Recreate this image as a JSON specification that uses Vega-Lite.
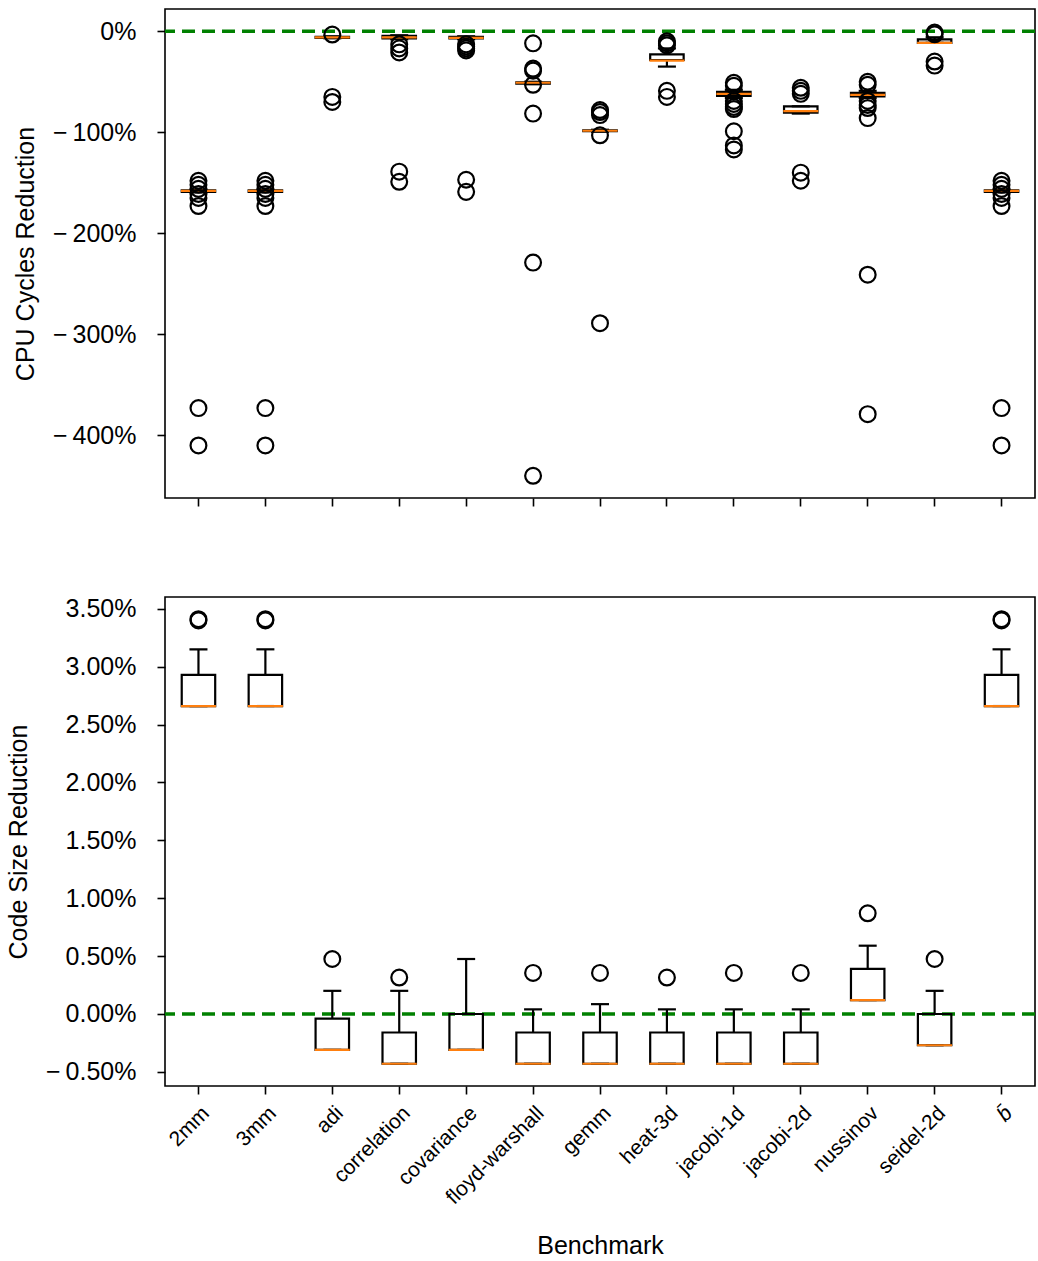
{
  "$schema": "https://vega.github.io/schema/vega-lite/v6.json",
  "background": "white",
  "padding": {"left": 5, "top": 8, "right": 3, "bottom": 0},
  "spacing": 88,
  "config": {
    "font": "Liberation Sans",
    "view": {"stroke": "black", "strokeWidth": 1.6},
    "axis": {
      "domain": false, "grid": false,
      "tickColor": "black", "tickWidth": 1.6, "tickSize": 8,
      "labelColor": "black", "titleColor": "black",
      "labelFont": "Liberation Sans", "titleFont": "Liberation Sans",
      "labelFontSize": 25, "titleFontSize": 25, "titleFontWeight": "normal",
      "labelPadding": 21, "titlePadding": 14
    }
  },
  "datasets": {
    "cpuBox": [
      {"b": "2mm", "lo": -159.5, "q1": -159, "med": -158, "q3": -157.5, "hi": -157},
      {"b": "3mm", "lo": -159.5, "q1": -159, "med": -158, "q3": -157.5, "hi": -157},
      {"b": "adi", "lo": -7, "q1": -6.5, "med": -6, "q3": -5.5, "hi": -5},
      {"b": "correlation", "lo": -8, "q1": -7, "med": -6, "q3": -4.5, "hi": -4},
      {"b": "covariance", "lo": -8, "q1": -7, "med": -6.5, "q3": -5.5, "hi": -5},
      {"b": "floyd-warshall", "lo": -52.5, "q1": -52, "med": -51, "q3": -50.5, "hi": -50},
      {"b": "gemm", "lo": -99.5, "q1": -99, "med": -98.5, "q3": -98, "hi": -97.5},
      {"b": "heat-3d", "lo": -35, "q1": -28.5, "med": -29, "q3": -23, "hi": -17},
      {"b": "jacobi-1d", "lo": -66, "q1": -64, "med": -62, "q3": -60, "hi": -58},
      {"b": "jacobi-2d", "lo": -81.5, "q1": -80.5, "med": -79, "q3": -74.3, "hi": -74.3},
      {"b": "nussinov", "lo": -66, "q1": -64.5, "med": -63, "q3": -61, "hi": -59},
      {"b": "seidel-2d", "lo": -11.5, "q1": -11.5, "med": -11.5, "q3": -8, "hi": -6},
      {"b": "b̄", "lo": -159.5, "q1": -159, "med": -158, "q3": -157.5, "hi": -157}
    ],
    "cpuOut": [
      {"b": "2mm", "v": -148}, {"b": "2mm", "v": -152}, {"b": "2mm", "v": -156}, {"b": "2mm", "v": -161},
      {"b": "2mm", "v": -165}, {"b": "2mm", "v": -173}, {"b": "2mm", "v": -373}, {"b": "2mm", "v": -410},
      {"b": "3mm", "v": -148}, {"b": "3mm", "v": -152}, {"b": "3mm", "v": -156}, {"b": "3mm", "v": -161},
      {"b": "3mm", "v": -165}, {"b": "3mm", "v": -173}, {"b": "3mm", "v": -373}, {"b": "3mm", "v": -410},
      {"b": "adi", "v": -3.3}, {"b": "adi", "v": -65}, {"b": "adi", "v": -70},
      {"b": "correlation", "v": -13}, {"b": "correlation", "v": -17}, {"b": "correlation", "v": -21},
      {"b": "correlation", "v": -139}, {"b": "correlation", "v": -149},
      {"b": "covariance", "v": -13}, {"b": "covariance", "v": -15}, {"b": "covariance", "v": -17},
      {"b": "covariance", "v": -19}, {"b": "covariance", "v": -147}, {"b": "covariance", "v": -159},
      {"b": "floyd-warshall", "v": -12}, {"b": "floyd-warshall", "v": -37}, {"b": "floyd-warshall", "v": -39},
      {"b": "floyd-warshall", "v": -53}, {"b": "floyd-warshall", "v": -81.5}, {"b": "floyd-warshall", "v": -229},
      {"b": "floyd-warshall", "v": -440},
      {"b": "gemm", "v": -78}, {"b": "gemm", "v": -80}, {"b": "gemm", "v": -83}, {"b": "gemm", "v": -103},
      {"b": "gemm", "v": -289},
      {"b": "heat-3d", "v": -10}, {"b": "heat-3d", "v": -12}, {"b": "heat-3d", "v": -14},
      {"b": "heat-3d", "v": -59}, {"b": "heat-3d", "v": -65},
      {"b": "jacobi-1d", "v": -51}, {"b": "jacobi-1d", "v": -54}, {"b": "jacobi-1d", "v": -69},
      {"b": "jacobi-1d", "v": -72}, {"b": "jacobi-1d", "v": -75}, {"b": "jacobi-1d", "v": -77},
      {"b": "jacobi-1d", "v": -99}, {"b": "jacobi-1d", "v": -113}, {"b": "jacobi-1d", "v": -117},
      {"b": "jacobi-2d", "v": -56}, {"b": "jacobi-2d", "v": -59}, {"b": "jacobi-2d", "v": -62},
      {"b": "jacobi-2d", "v": -140}, {"b": "jacobi-2d", "v": -148},
      {"b": "nussinov", "v": -50}, {"b": "nussinov", "v": -53}, {"b": "nussinov", "v": -69},
      {"b": "nussinov", "v": -73}, {"b": "nussinov", "v": -76}, {"b": "nussinov", "v": -86},
      {"b": "nussinov", "v": -241}, {"b": "nussinov", "v": -379},
      {"b": "seidel-2d", "v": -1.3}, {"b": "seidel-2d", "v": -3}, {"b": "seidel-2d", "v": -30},
      {"b": "seidel-2d", "v": -34},
      {"b": "b̄", "v": -148}, {"b": "b̄", "v": -152}, {"b": "b̄", "v": -156}, {"b": "b̄", "v": -161},
      {"b": "b̄", "v": -165}, {"b": "b̄", "v": -173}, {"b": "b̄", "v": -373}, {"b": "b̄", "v": -410}
    ],
    "sizeBox": [
      {"b": "2mm", "lo": 2.66, "q1": 2.66, "med": 2.66, "q3": 2.93, "hi": 3.15},
      {"b": "3mm", "lo": 2.66, "q1": 2.66, "med": 2.66, "q3": 2.93, "hi": 3.15},
      {"b": "adi", "lo": -0.31, "q1": -0.31, "med": -0.31, "q3": -0.04, "hi": 0.2},
      {"b": "correlation", "lo": -0.43, "q1": -0.43, "med": -0.43, "q3": -0.16, "hi": 0.2},
      {"b": "covariance", "lo": -0.31, "q1": -0.31, "med": -0.31, "q3": 0.0, "hi": 0.475},
      {"b": "floyd-warshall", "lo": -0.43, "q1": -0.43, "med": -0.43, "q3": -0.16, "hi": 0.04},
      {"b": "gemm", "lo": -0.43, "q1": -0.43, "med": -0.43, "q3": -0.16, "hi": 0.085},
      {"b": "heat-3d", "lo": -0.43, "q1": -0.43, "med": -0.43, "q3": -0.16, "hi": 0.04},
      {"b": "jacobi-1d", "lo": -0.43, "q1": -0.43, "med": -0.43, "q3": -0.16, "hi": 0.04},
      {"b": "jacobi-2d", "lo": -0.43, "q1": -0.43, "med": -0.43, "q3": -0.16, "hi": 0.04},
      {"b": "nussinov", "lo": 0.12, "q1": 0.12, "med": 0.12, "q3": 0.39, "hi": 0.59},
      {"b": "seidel-2d", "lo": -0.27, "q1": -0.27, "med": -0.27, "q3": 0.0, "hi": 0.2},
      {"b": "b̄", "lo": 2.66, "q1": 2.66, "med": 2.66, "q3": 2.93, "hi": 3.15}
    ],
    "sizeOut": [
      {"b": "2mm", "v": 3.4}, {"b": "2mm", "v": 3.41},
      {"b": "3mm", "v": 3.4}, {"b": "3mm", "v": 3.41},
      {"b": "adi", "v": 0.475},
      {"b": "correlation", "v": 0.315},
      {"b": "floyd-warshall", "v": 0.355},
      {"b": "gemm", "v": 0.355},
      {"b": "heat-3d", "v": 0.315},
      {"b": "jacobi-1d", "v": 0.355},
      {"b": "jacobi-2d", "v": 0.355},
      {"b": "nussinov", "v": 0.87},
      {"b": "seidel-2d", "v": 0.475},
      {"b": "b̄", "v": 3.4}, {"b": "b̄", "v": 3.41}
    ]
  },
  "vconcat": [
    {
      "width": 870,
      "height": 489,
      "encoding": {
        "x": {
          "field": "b", "type": "nominal", "title": null,
          "scale": {"domain": ["2mm", "3mm", "adi", "correlation", "covariance", "floyd-warshall", "gemm", "heat-3d", "jacobi-1d", "jacobi-2d", "nussinov", "seidel-2d", "b̄"], "paddingInner": 0, "paddingOuter": 0},
          "axis": {"labels": false, "ticks": true}
        }
      },
      "layer": [
        {
          "data": {"values": [{"zero": 0}]},
          "mark": {"type": "rule", "color": "#008000", "strokeWidth": 3.5, "strokeDash": [13, 7]},
          "encoding": {
            "x": null,
            "y": {
              "field": "zero", "type": "quantitative", "title": "CPU Cycles Reduction",
              "scale": {"domain": [-462, 22], "nice": false, "zero": false},
              "axis": {
                "values": [0, -100, -200, -300, -400],
                "labelExpr": "datum.value == 0 ? '0%' : '−\u2009' + abs(datum.value) + '%'"
              }
            }
          }
        },
        {
          "data": {"name": "cpuBox"},
          "mark": {"type": "rule", "color": "black", "strokeWidth": 2.2},
          "encoding": {
            "y": {"field": "lo", "type": "quantitative", "title": "CPU Cycles Reduction"},
            "y2": {"field": "q1"}
          }
        },
        {
          "data": {"name": "cpuBox"},
          "mark": {"type": "rule", "color": "black", "strokeWidth": 2.2},
          "encoding": {
            "y": {"field": "q3", "type": "quantitative", "title": "CPU Cycles Reduction"},
            "y2": {"field": "hi"}
          }
        },
        {
          "data": {"name": "cpuBox"},
          "mark": {"type": "tick", "color": "black", "size": 18, "thickness": 2.2, "opacity": 1},
          "encoding": {
            "y": {"field": "lo", "type": "quantitative", "title": "CPU Cycles Reduction"}
          }
        },
        {
          "data": {"name": "cpuBox"},
          "mark": {"type": "tick", "color": "black", "size": 18, "thickness": 2.2, "opacity": 1},
          "encoding": {
            "y": {"field": "hi", "type": "quantitative", "title": "CPU Cycles Reduction"}
          }
        },
        {
          "data": {"name": "cpuBox"},
          "mark": {"type": "bar", "width": {"band": 0.5}, "fill": "transparent", "stroke": "black", "strokeWidth": 2.2},
          "encoding": {
            "y": {"field": "q1", "type": "quantitative", "title": "CPU Cycles Reduction"},
            "y2": {"field": "q3"}
          }
        },
        {
          "data": {"name": "cpuBox"},
          "mark": {"type": "tick", "color": "#ff7f0e", "size": 35, "thickness": 2.2, "opacity": 1},
          "encoding": {
            "y": {"field": "med", "type": "quantitative", "title": "CPU Cycles Reduction"}
          }
        },
        {
          "data": {"name": "cpuOut"},
          "mark": {"type": "point", "shape": "circle", "filled": false, "stroke": "black", "strokeWidth": 2.2, "size": 250, "opacity": 1},
          "encoding": {
            "y": {"field": "v", "type": "quantitative", "title": "CPU Cycles Reduction"}
          }
        }
      ]
    },
    {
      "width": 870,
      "height": 489,
      "encoding": {
        "x": {
          "field": "b", "type": "nominal", "title": "Benchmark",
          "scale": {"domain": ["2mm", "3mm", "adi", "correlation", "covariance", "floyd-warshall", "gemm", "heat-3d", "jacobi-1d", "jacobi-2d", "nussinov", "seidel-2d", "b̄"], "paddingInner": 0, "paddingOuter": 0},
          "axis": {
            "labelAngle": -45, "labelAlign": "right", "labelBaseline": "top",
            "labelFontSize": 21, "labelPadding": 8,
            "labelFontStyle": {"condition": {"test": "datum.value === 'b̄'", "value": "italic"}, "value": "normal"},
            "titlePadding": 26
          }
        }
      },
      "layer": [
        {
          "data": {"values": [{"zero": 0}]},
          "mark": {"type": "rule", "color": "#008000", "strokeWidth": 3.5, "strokeDash": [13, 7]},
          "encoding": {
            "x": null,
            "y": {
              "field": "zero", "type": "quantitative", "title": "Code Size Reduction",
              "scale": {"domain": [-0.622, 3.602], "nice": false, "zero": false},
              "axis": {
                "values": [-0.5, 0, 0.5, 1, 1.5, 2, 2.5, 3, 3.5],
                "labelExpr": "(datum.value < 0 ? '−\u2009' : '') + format(abs(datum.value), '.2f') + '%'"
              }
            }
          }
        },
        {
          "data": {"name": "sizeBox"},
          "mark": {"type": "rule", "color": "black", "strokeWidth": 2.2},
          "encoding": {
            "y": {"field": "lo", "type": "quantitative", "title": "Code Size Reduction"},
            "y2": {"field": "q1"}
          }
        },
        {
          "data": {"name": "sizeBox"},
          "mark": {"type": "rule", "color": "black", "strokeWidth": 2.2},
          "encoding": {
            "y": {"field": "q3", "type": "quantitative", "title": "Code Size Reduction"},
            "y2": {"field": "hi"}
          }
        },
        {
          "data": {"name": "sizeBox"},
          "mark": {"type": "tick", "color": "black", "size": 18, "thickness": 2.2, "opacity": 1},
          "encoding": {
            "y": {"field": "lo", "type": "quantitative", "title": "Code Size Reduction"}
          }
        },
        {
          "data": {"name": "sizeBox"},
          "mark": {"type": "tick", "color": "black", "size": 18, "thickness": 2.2, "opacity": 1},
          "encoding": {
            "y": {"field": "hi", "type": "quantitative", "title": "Code Size Reduction"}
          }
        },
        {
          "data": {"name": "sizeBox"},
          "mark": {"type": "bar", "width": {"band": 0.5}, "fill": "transparent", "stroke": "black", "strokeWidth": 2.2},
          "encoding": {
            "y": {"field": "q1", "type": "quantitative", "title": "Code Size Reduction"},
            "y2": {"field": "q3"}
          }
        },
        {
          "data": {"name": "sizeBox"},
          "mark": {"type": "tick", "color": "#ff7f0e", "size": 35, "thickness": 2.2, "opacity": 1},
          "encoding": {
            "y": {"field": "med", "type": "quantitative", "title": "Code Size Reduction"}
          }
        },
        {
          "data": {"name": "sizeOut"},
          "mark": {"type": "point", "shape": "circle", "filled": false, "stroke": "black", "strokeWidth": 2.2, "size": 250, "opacity": 1},
          "encoding": {
            "y": {"field": "v", "type": "quantitative", "title": "Code Size Reduction"}
          }
        }
      ]
    }
  ]
}
